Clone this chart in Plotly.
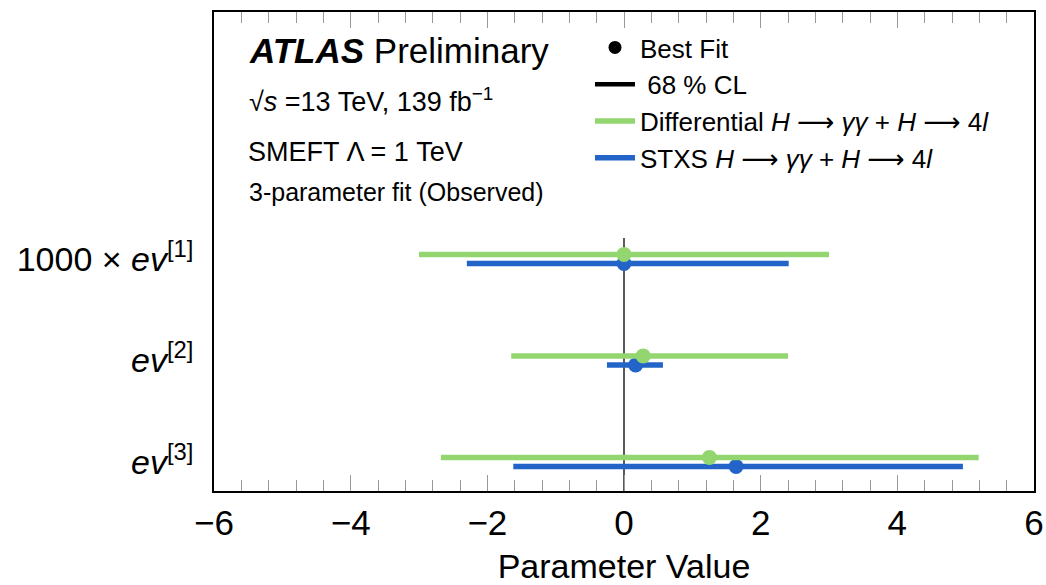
import plotly.graph_objects as go

# ---- data ----
param_labels = ["1000 × <i>ev</i><sup>[1]</sup>", "<i>ev</i><sup>[2]</sup>", "<i>ev</i><sup>[3]</sup>"]
param_pos = [3, 2, 1]

diff_best = [0.00, 0.28, 1.25]
diff_lo = [-3.00, -1.65, -2.68]
diff_hi = [3.00, 2.40, 5.19]

stxs_best = [0.00, 0.17, 1.64]
stxs_lo = [-2.30, -0.25, -1.62]
stxs_hi = [2.41, 0.57, 4.96]

x_ticks = [-6, -4, -2, 0, 2, 4, 6]

GREEN = "#93D66F"
BLUE = "#2364C8"
FONT = "Liberation Sans, Arial, sans-serif"
ARROW = '<span style="font-family:DejaVu Sans">⟶</span>'

offset = 0.045
y_diff = [p + offset for p in param_pos]
y_stxs = [p - offset for p in param_pos]

fig = go.Figure()


def add_series(best, lo, hi, ys, color):
    fig.add_trace(go.Scatter(
        x=best, y=ys, mode="markers",
        marker=dict(color=color, size=15, line=dict(width=0)),
        error_x=dict(type="data", symmetric=False,
                     array=[h - b for h, b in zip(hi, best)],
                     arrayminus=[b - l for b, l in zip(best, lo)],
                     color=color, thickness=5.5, width=0),
        showlegend=False, hoverinfo="x+y",
    ))


add_series(stxs_best, stxs_lo, stxs_hi, y_stxs, BLUE)
add_series(diff_best, diff_lo, diff_hi, y_diff, GREEN)

# legend entries
fig.add_trace(go.Scatter(x=[None], y=[None], mode="markers", name="Best Fit",
                         marker=dict(color="black", size=13), legendrank=1))
fig.add_trace(go.Scatter(x=[None], y=[None], mode="lines", name=" 68 % CL",
                         line=dict(color="black", width=4.5), legendrank=2))
fig.add_trace(go.Scatter(x=[None], y=[None], mode="lines",
                         name=f"Differential <i>H</i> {ARROW} <i>γγ</i> + <i>H</i> {ARROW} 4<i>l</i>",
                         line=dict(color=GREEN, width=5.5), legendrank=3))
fig.add_trace(go.Scatter(x=[None], y=[None], mode="lines",
                         name=f"STXS <i>H</i> {ARROW} <i>γγ</i> + <i>H</i> {ARROW} 4<i>l</i>",
                         line=dict(color=BLUE, width=5.5), legendrank=4))

# vertical reference line at 0
fig.add_shape(type="line", xref="x", yref="y", x0=0, x1=0, y0=0.714, y1=3.207,
              line=dict(color="black", width=1.3), layer="below")

W, L, R, T, B = 1046, 214, 1034, 12, 491


def px(xp):
    return (xp - L) / (R - L)


def py(yp):
    return (B - yp) / (B - T)


ann = [
    dict(text="<b><i>ATLAS</i></b> Preliminary", x=px(247), y=py(50), size=35),
    dict(text="√<i>s</i> =13 TeV, 139 fb<sup>−1</sup>", x=px(247), y=py(100), size=27),
    dict(text="SMEFT Λ = 1 TeV", x=px(246), y=py(152), size=27),
    dict(text="3-parameter fit (Observed)", x=px(247), y=py(192), size=25),
]
for a in ann:
    fig.add_annotation(text=a["text"], x=a["x"], y=a["y"], xref="paper", yref="paper",
                       xanchor="left", yanchor="middle", showarrow=False,
                       font=dict(size=a["size"], color="black", family=FONT))

fig.update_layout(
    width=W, height=585,
    margin=dict(l=L, r=W - R, t=T, b=585 - B, autoexpand=False),
    paper_bgcolor="white", plot_bgcolor="white",
    font=dict(family=FONT, color="black"),
    showlegend=True,
    legend=dict(x=px(590), y=py(24), xanchor="left", yanchor="top",
                bgcolor="rgba(0,0,0,0)", font=dict(size=26, family=FONT),
                itemwidth=40, tracegroupgap=0, traceorder="normal"),
    xaxis=dict(range=[-6, 6], tickvals=x_ticks, ticks="inside", ticklen=16,
               tickcolor="#999999", tickwidth=1.2, automargin=False,
               minor=dict(dtick=0.4, ticks="inside", ticklen=11, tickcolor="#999999", tickwidth=1),
               showline=True, linecolor="black", linewidth=1.5, mirror="ticks",
               showgrid=False, zeroline=False,
               tickfont=dict(size=35, family=FONT),
               title=dict(text="Parameter Value", font=dict(size=34, family=FONT), standoff=16)),
    yaxis=dict(range=[0.714, 5.433], tickvals=param_pos, ticktext=param_labels,
               ticks="", showline=True, linecolor="black", linewidth=1.5, mirror=True,
               showgrid=False, zeroline=False, ticklabelstandoff=12, automargin=False,
               tickfont=dict(size=34, family=FONT)),
)

fig.write_html("out.html")
